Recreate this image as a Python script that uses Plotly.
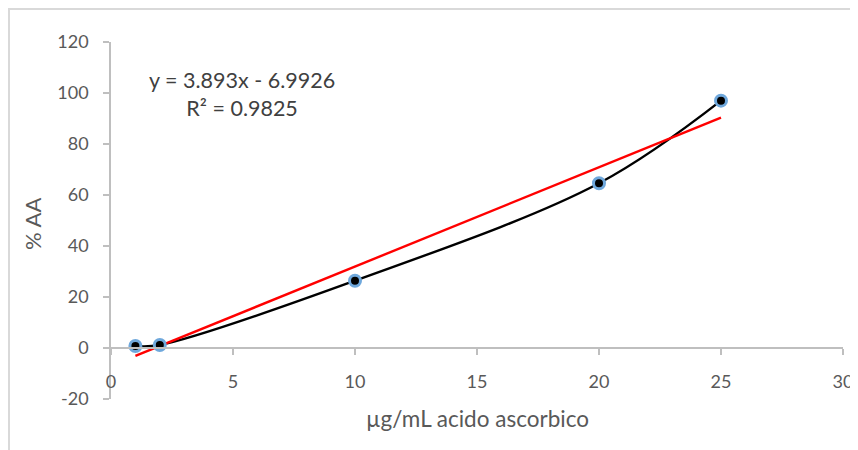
import plotly.graph_objects as go

# Data
conc = [1, 2, 10, 20, 25]
pct_aa = [0.8, 1.2, 26.4, 64.6, 97.0]
slope = 3.893
intercept = -6.9926
r2 = 0.9825
trend_x = [1, 25]
trend_y = [slope * x + intercept for x in trend_x]

x_ticks = [0, 5, 10, 15, 20, 25, 30]
y_ticks = [-20, 0, 20, 40, 60, 80, 100, 120]

FONT = "Lato"
GRAY = "#595959"
AXIS = "#BFBFBF"

OFF = 8  # page body margin
W, H = 850, 450 - OFF
L, T = 111 - OFF, 42 - OFF
R = W - (843 - OFF)
B = H - (399 - OFF)
ymin, ymax = -20, 120
dom_w = W - L - R
dom_h = H - T - B
x_axis_pos = (0 - ymin) / (ymax - ymin)


def px(xp):
    return (xp - OFF - L) / dom_w


def py(yp):
    return (H - B - (yp - OFF)) / dom_h


marker = dict(color="black", size=11, line=dict(color="#6FA8DC", width=3))

fig = go.Figure()
fig.add_trace(go.Scatter(
    x=conc, y=pct_aa, mode="lines",
    line=dict(color="black", width=2.4, shape="spline", smoothing=1),
    showlegend=False,
))
fig.add_trace(go.Scatter(
    x=trend_x, y=trend_y, mode="lines",
    line=dict(color="#FF0000", width=2.4),
    showlegend=False,
))
fig.add_trace(go.Scatter(
    x=conc, y=pct_aa, mode="markers", marker=marker, showlegend=False,
))

fig.update_layout(
    width=W, height=H,
    margin=dict(l=L, r=R, t=T, b=B, autoexpand=False),
    paper_bgcolor="white", plot_bgcolor="white",
    font=dict(family=FONT, size=18, color=GRAY),
    xaxis=dict(
        range=[0, 30], tickvals=x_ticks, ticktext=[str(v) for v in x_ticks],
        showgrid=False, zeroline=False, showline=True, linecolor=AXIS, linewidth=1.5,
        ticks="outside", ticklen=6, tickcolor=AXIS, tickwidth=1.5,
        anchor="free", position=x_axis_pos, ticklabelstandoff=12,
        ticklabeloverflow="allow",
        automargin=False, domain=[0, 1],
        tickfont=dict(family=FONT, size=18, color=GRAY),
    ),
    yaxis=dict(
        range=[ymin, ymax], tickvals=y_ticks, ticktext=[str(v) for v in y_ticks],
        showgrid=False, zeroline=False, showline=True, linecolor=AXIS, linewidth=1.5,
        ticks="outside", ticklen=6, tickcolor=AXIS, tickwidth=1.5,
        ticklabelstandoff=11, automargin=False, domain=[0, 1],
        tickfont=dict(family=FONT, size=18, color=GRAY),
    ),
    shapes=[dict(
        type="rect", xref="paper", yref="paper",
        x0=px(9), x1=1.2,
        y0=-0.3, y1=py(9),
        line=dict(color="#D9D9D9", width=2), fillcolor="rgba(0,0,0,0)", layer="below",
    )],
    annotations=[
        dict(text="µg/mL acido ascorbico", xref="paper", yref="paper",
             x=px(477), y=py(418),
             showarrow=False, font=dict(family=FONT, size=22.5, color=GRAY),
             xanchor="center", yanchor="middle"),
        dict(text="% AA", xref="paper", yref="paper",
             x=px(32), y=py(224), textangle=-90,
             showarrow=False, font=dict(family=FONT, size=22, color=GRAY),
             xanchor="center", yanchor="middle"),
        dict(text=f"y = {slope}x - {abs(intercept)}<br>R² = {r2}",
             xref="paper", yref="paper",
             x=px(242), y=py(94),
             showarrow=False, align="center",
             font=dict(family=FONT, size=21.5, color="#404040"),
             xanchor="center", yanchor="middle"),
    ],
)

fig.write_html("out.html")
